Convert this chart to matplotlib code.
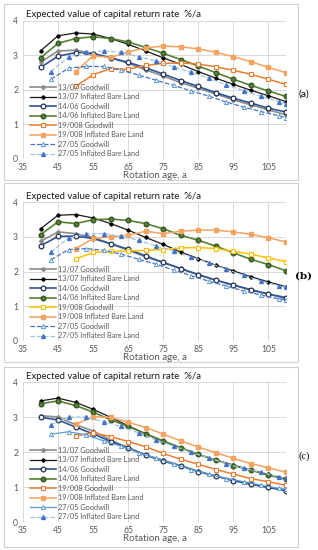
import matplotlib
matplotlib.use("Agg")
import matplotlib.pyplot as plt

plt.rcParams["font.family"] = ["Lato", "DejaVu Sans"]

# ── Data ────────────────────────────────────────────────────────────
AGES = list(range(40, 111, 5))
AGES_19 = list(range(50, 111, 5))
AGES_27 = [43, 48, 53, 58, 63, 68, 73, 78, 83, 88, 93, 98, 103, 108, 110]

LABELS = ["13/07 Goodwill", "13/07 Inflated Bare Land", "14/06 Goodwill",
          "14/06 Inflated Bare Land", "19/008 Goodwill", "19/008 Inflated Bare Land",
          "27/05 Goodwill", "27/05 Inflated Bare Land"]

# panel (a)
A_1307_GW = [2.80, 3.13, 3.15, 3.06, 2.93, 2.77, 2.58, 2.40, 2.21, 2.05, 1.88, 1.71, 1.57, 1.42, 1.28]
A_1307_IB = [3.13, 3.57, 3.65, 3.62, 3.49, 3.32, 3.13, 2.93, 2.74, 2.53, 2.34, 2.16, 1.99, 1.83, 1.66]
A_1406_GW = [2.65, 2.98, 3.08, 3.05, 2.93, 2.80, 2.64, 2.46, 2.27, 2.10, 1.92, 1.76, 1.62, 1.47, 1.36]
A_1406_IB = [2.93, 3.35, 3.49, 3.54, 3.49, 3.39, 3.23, 3.06, 2.88, 2.69, 2.50, 2.31, 2.13, 1.97, 1.81]
A_19_GW = [2.10, 2.44, 2.62, 2.60, 2.71, 2.77, 2.78, 2.75, 2.67, 2.57, 2.45, 2.31, 2.16]
A_19_IB = [2.53, 2.99, 2.94, 3.10, 3.22, 3.27, 3.25, 3.19, 3.09, 2.96, 2.82, 2.65, 2.50]
A_27_GW = [2.31, 2.63, 2.68, 2.68, 2.57, 2.43, 2.28, 2.13, 1.97, 1.82, 1.65, 1.50, 1.37, 1.25, 1.20]
A_27_IB = [2.53, 2.96, 3.09, 3.13, 3.09, 2.96, 2.84, 2.67, 2.51, 2.34, 2.14, 1.98, 1.81, 1.66, 1.60]

# panel (b)
B_1307_GW = [2.87, 3.14, 3.09, 2.98, 2.80, 2.61, 2.42, 2.26, 2.09, 1.91, 1.75, 1.61, 1.46, 1.35, 1.22]
B_1307_IB = [3.23, 3.62, 3.64, 3.54, 3.38, 3.19, 2.98, 2.78, 2.56, 2.37, 2.18, 2.02, 1.85, 1.70, 1.56]
B_1406_GW = [2.74, 3.01, 3.02, 2.95, 2.80, 2.64, 2.45, 2.26, 2.08, 1.91, 1.75, 1.61, 1.48, 1.35, 1.25]
B_1406_IB = [3.06, 3.43, 3.38, 3.49, 3.51, 3.47, 3.38, 3.23, 3.04, 2.90, 2.73, 2.54, 2.35, 2.20, 2.02]
B_19_GW = [2.36, 2.55, 2.58, 2.59, 2.61, 2.63, 2.68, 2.69, 2.66, 2.58, 2.50, 2.39, 2.28]
B_19_IB = [2.66, 2.95, 3.00, 3.04, 3.16, 3.09, 3.16, 3.19, 3.19, 3.14, 3.07, 2.97, 2.85]
B_27_GW = [2.34, 2.63, 2.66, 2.61, 2.50, 2.35, 2.21, 2.04, 1.88, 1.72, 1.58, 1.44, 1.32, 1.21, 1.18]
B_27_IB = [2.56, 2.97, 3.09, 3.09, 3.01, 2.90, 2.73, 2.59, 2.42, 2.25, 2.06, 1.89, 1.72, 1.59, 1.55]

# panel (c)
C_1307_GW = [3.04, 3.00, 2.78, 2.60, 2.34, 2.13, 1.91, 1.77, 1.61, 1.45, 1.31, 1.20, 1.08, 0.99, 0.91]
C_1307_IB = [3.46, 3.54, 3.42, 3.22, 2.99, 2.75, 2.52, 2.30, 2.12, 1.93, 1.77, 1.63, 1.48, 1.36, 1.24]
C_1406_GW = [2.99, 2.92, 2.71, 2.52, 2.30, 2.11, 1.91, 1.74, 1.60, 1.44, 1.31, 1.18, 1.08, 0.99, 0.89]
C_1406_IB = [3.38, 3.46, 3.33, 3.14, 2.92, 2.73, 2.52, 2.32, 2.12, 1.93, 1.77, 1.61, 1.48, 1.34, 1.22]
C_19_GW = [2.46, 2.55, 2.44, 2.30, 2.15, 1.96, 1.79, 1.65, 1.50, 1.37, 1.24, 1.15, 1.05]
C_19_IB = [2.79, 3.01, 2.99, 2.85, 2.70, 2.51, 2.32, 2.14, 1.98, 1.82, 1.67, 1.55, 1.42]
C_27_GW = [2.51, 2.58, 2.49, 2.32, 2.17, 1.98, 1.82, 1.66, 1.50, 1.37, 1.24, 1.15, 1.05, 0.96, 0.94]
C_27_IB = [2.78, 3.00, 3.00, 2.87, 2.73, 2.54, 2.34, 2.17, 1.99, 1.84, 1.67, 1.53, 1.42, 1.29, 1.25]

PANELS = [
    ("(a)", [A_1307_GW, A_1307_IB, A_1406_GW, A_1406_IB, A_19_GW, A_19_IB, A_27_GW, A_27_IB]),
    ("(b)", [B_1307_GW, B_1307_IB, B_1406_GW, B_1406_IB, B_19_GW, B_19_IB, B_27_GW, B_27_IB]),
    ("(c)", [C_1307_GW, C_1307_IB, C_1406_GW, C_1406_IB, C_19_GW, C_19_IB, C_27_GW, C_27_IB]),
]
XS = [AGES, AGES, AGES, AGES, AGES_19, AGES_19, AGES_27, AGES_27]

# ── Styles ──────────────────────────────────────────────────────────
GRID = "#D9D9D9"
TICK = "#595959"


def styles(panel):
    gw19 = "#FFC000" if panel == "(b)" else "#ED7D31"
    gw27_ls = "-" if panel == "(c)" else "--"
    gw27_c = "#5B9BD5" if panel == "(c)" else "#4472C4"
    return [
        dict(color="#8C8C8C", marker="D", ms=2.0, mfc="#8C8C8C", mec="#8C8C8C", ls="-", lw=1.2),
        dict(color="#1A1A1A", marker="D", ms=1.8, mfc="#000000", mec="#000000", ls="-", lw=0.9),
        dict(color="#2F5597", marker="o", ms=3.4, mfc="white", mec="#1F2F4F", mew=0.9, ls="-", lw=1.2),
        dict(color="#548235", marker="o", ms=3.3, mfc="#548235", mec="#385723", ls="-", lw=1.2),
        dict(color=gw19, marker="s", ms=3.1, mfc="white", mec=gw19, mew=0.8, ls="-", lw=1.1),
        dict(color="#F4A460", marker="s", ms=3.0, mfc="#F4A460", mec="#F4A460", ls="-", lw=1.1),
        dict(color=gw27_c, marker="^", ms=3.0, mfc="white", mec="#5B9BD5", mew=0.7, ls=gw27_ls, lw=0.9),
        dict(color="#9DC3E6", marker="^", ms=2.8, mfc="#4472C4", mec="#4472C4", ls="--", lw=0.9),
    ]


fig = plt.figure(figsize=(3.18, 5.5), dpi=100)

boxes = [(0.012, 0.673, 0.925, 0.320), (0.012, 0.342, 0.925, 0.325), (0.012, 0.006, 0.925, 0.327)]
axes_pos = [(0.0723, 0.711, 0.827, 0.251), (0.0723, 0.380, 0.827, 0.2527), (0.0723, 0.0509, 0.827, 0.2545)]

for (tag, series), box, pos in zip(PANELS, boxes, axes_pos):
    fig.patches.append(plt.Rectangle(box[:2], box[2], box[3], transform=fig.transFigure,
                                     fill=False, edgecolor="#D0D0D0", linewidth=0.8))
    ax = fig.add_axes(pos)
    for xs, ys, lab, st in zip(XS, series, LABELS, styles(tag)):
        ax.plot(xs, ys, label=lab, **st, zorder=3)

    ax.set_xlim(35, 110)
    ax.set_ylim(0, 4)
    ax.set_xticks(range(35, 106, 10))
    ax.set_yticks(range(0, 5))
    ax.grid(True, color=GRID, linewidth=0.7, zorder=0)
    ax.set_axisbelow(True)
    for s in ax.spines.values():
        s.set_visible(False)
    ax.tick_params(length=0, labelsize=6.2, colors=TICK)
    ax.tick_params(axis="x", pad=3.0)
    ax.tick_params(axis="y", pad=3.5)
    ax.set_xlabel("Rotation age, a", fontsize=7.0, color=TICK, labelpad=-0.5)
    ax.set_title("Expected value of capital return rate  %/a", fontsize=6.9,
                 loc="left", color="#1A1A1A", pad=2.5, x=0.01)

    ax.legend(loc="lower left", bbox_to_anchor=(0.01, -0.02), frameon=False,
              fontsize=5.3, handlelength=3.5, handletextpad=0.3,
              labelspacing=0.34, borderaxespad=0.2, labelcolor=TICK)

    if tag == "(a)":
        fig.text(0.955, pos[1] + pos[3] * 0.47, tag, fontsize=7.5, ha="center", va="center")
    elif tag == "(b)":
        fig.text(0.955, pos[1] + pos[3] * 0.47, tag, fontsize=7.5, ha="center", va="center",
                 fontweight="bold", family=["DejaVu Serif"])
    else:
        fig.text(0.955, pos[1] + pos[3] * 0.47, tag, fontsize=7.5, ha="center", va="center",
                 family=["Liberation Serif"])

fig.savefig("out.png", dpi=100)
